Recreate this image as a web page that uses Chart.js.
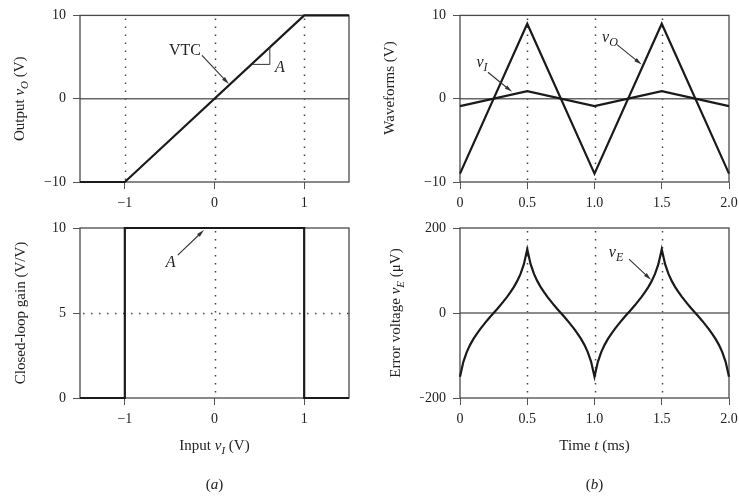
<!DOCTYPE html>
<html>
<head>
<meta charset="utf-8">
<script src="https://cdn.jsdelivr.net/npm/chart.js@4.4.0/dist/chart.umd.min.js"></script>
<style>
html, body { margin: 0; padding: 0; background: #fff; overflow: hidden; }
#wrap { position: relative; width: 739px; height: 497px; overflow: hidden; background: #fff; }
#wrap canvas { position: absolute; left: 0; top: 0; }
</style>
</head>
<body>
<div id="wrap">
  <canvas id="vtc" width="760" height="497"></canvas>
  <canvas id="gain" width="760" height="497"></canvas>
  <canvas id="waves" width="760" height="497"></canvas>
  <canvas id="error" width="760" height="497"></canvas>
</div>
<script>
// ---- data ----
var vtcInput = [-1.5, -1, 1, 1.5];
var vtcOutput = [-10, -10, 10, 10];

var gainInput = [-1.5, -1, -1, 1, 1, 1.5];
var gainValue = [0, 0, 10, 10, 0, 0];

var waveTime = [0, 0.5, 1.0, 1.5, 2.0];
var outputWave = [-9, 9, -9, 9, -9];
var inputWave = [-0.9, 0.9, -0.9, 0.9, -0.9];

var errorTime = [
  0, 0.025, 0.05, 0.075, 0.1, 0.125, 0.15, 0.175, 0.2, 0.225,
  0.25, 0.275, 0.3, 0.325, 0.35, 0.375, 0.4, 0.425, 0.45, 0.475,
  0.5, 0.525, 0.55, 0.575, 0.6, 0.625, 0.65, 0.675, 0.7, 0.725,
  0.75, 0.775, 0.8, 0.825, 0.85, 0.875, 0.9, 0.925, 0.95, 0.975,
  1.0, 1.025, 1.05, 1.075, 1.1, 1.125, 1.15, 1.175, 1.2, 1.225,
  1.25, 1.275, 1.3, 1.325, 1.35, 1.375, 1.4, 1.425, 1.45, 1.475,
  1.5, 1.525, 1.55, 1.575, 1.6, 1.625, 1.65, 1.675, 1.7, 1.725,
  1.75, 1.775, 1.8, 1.825, 1.85, 1.875, 1.9, 1.925, 1.95, 1.975, 2.0
];
var errorWave = [
  -150, -115, -92, -75, -61, -49, -38, -28, -18, -9,
  0, 9, 18, 28, 38, 49, 61, 75, 92, 115,
  150, 115, 92, 75, 61, 49, 38, 28, 18, 9,
  0, -9, -18, -28, -38, -49, -61, -75, -92, -115,
  -150, -115, -92, -75, -61, -49, -38, -28, -18, -9,
  0, 9, 18, 28, 38, 49, 61, 75, 92, 115,
  150, 115, 92, 75, 61, 49, 38, 28, 18, 9,
  0, -9, -18, -28, -38, -49, -61, -75, -92, -115, -150
];

var inputTicks = [-1, 0, 1];
var timeTicks = [0, 0.5, 1.0, 1.5, 2.0];
var voltTicks = [-10, 0, 10];
var gainTicks = [0, 5, 10];
var errorTicks = [-200, 0, 200];

var SERIF = '"Liberation Serif", "Times New Roman", serif';
var R15 = '15px ' + SERIF, I15 = 'italic 15px ' + SERIF, S11 = 'italic 11px ' + SERIF;
var R16 = '16px ' + SERIF, I16 = 'italic 16px ' + SERIF, S12 = 'italic 12px ' + SERIF;

Chart.defaults.font.family = SERIF;
Chart.defaults.font.size = 14;
Chart.defaults.color = '#222';

function pts(xs, ys) {
  return xs.map(function(x, i) { return { x: x, y: ys[i] }; });
}

function signed(v) {
  return v < 0 ? '\u2212' + Math.abs(v) : String(v);
}

function timeLabel(v) {
  return v === 0 ? '0' : v.toFixed(1);
}

// text made of runs in different fonts, centred at (x, y)
function richText(ctx, parts, x, y, angle) {
  ctx.save();
  ctx.translate(x, y);
  ctx.rotate(angle || 0);
  ctx.fillStyle = '#222';
  ctx.textBaseline = 'alphabetic';
  var w = 0;
  parts.forEach(function(p) { ctx.font = p[1]; w += ctx.measureText(p[0]).width; });
  var cx = -w / 2;
  parts.forEach(function(p) {
    ctx.font = p[1];
    ctx.fillText(p[0], cx, 5 + (p[2] || 0));
    cx += ctx.measureText(p[0]).width;
  });
  ctx.restore();
}

function arrow(ctx, x1, y1, x2, y2) {
  var a = Math.atan2(y2 - y1, x2 - x1), h = 8;
  ctx.save();
  ctx.strokeStyle = '#333';
  ctx.fillStyle = '#333';
  ctx.lineWidth = 1.1;
  ctx.beginPath();
  ctx.moveTo(x1, y1);
  ctx.lineTo(x2 - 5 * Math.cos(a), y2 - 5 * Math.sin(a));
  ctx.stroke();
  ctx.beginPath();
  ctx.moveTo(x2, y2);
  ctx.lineTo(x2 - h * Math.cos(a - 0.25), y2 - h * Math.sin(a - 0.25));
  ctx.lineTo(x2 - h * Math.cos(a + 0.25), y2 - h * Math.sin(a + 0.25));
  ctx.closePath();
  ctx.fill();
  ctx.restore();
}

// per panel extras: dotted / solid guide lines, titles, notes
var panels = {
  vtc: {
    vDots: [-1, 0, 1], hDots: [], hSolid: [0],
    draw: function(ctx, c, X, Y, a) {
      richText(ctx, [['Output ', R15], ['v', I15], ['O', S11, 4], [' (V)', R15]], 19, (a.top + a.bottom) / 2, -Math.PI / 2);
      richText(ctx, [['VTC', R16]], X(-0.33), Y(5.8));
      arrow(ctx, X(-0.14), Y(5.2), X(0.16), Y(1.76));
      ctx.save();
      ctx.strokeStyle = '#333';
      ctx.lineWidth = 1;
      ctx.beginPath();
      ctx.moveTo(X(0.417), Y(4.12));
      ctx.lineTo(X(0.617), Y(4.12));
      ctx.lineTo(X(0.617), Y(6.24));
      ctx.stroke();
      ctx.restore();
      richText(ctx, [['A', I16]], X(0.73), Y(3.8));
    }
  },
  gain: {
    vDots: [0], hDots: [5], hSolid: [],
    draw: function(ctx, c, X, Y, a) {
      richText(ctx, [['Closed-loop gain (V/V)', R15]], 20, (a.top + a.bottom) / 2, -Math.PI / 2);
      richText(ctx, [['Input ', R15], ['v', I15], ['I', S11, 4], [' (V)', R15]], (a.left + a.right) / 2, 445);
      richText(ctx, [['(', R15], ['a', I15], [')', R15]], (a.left + a.right) / 2, 484);
      richText(ctx, [['A', I16]], X(-0.49), Y(8.0));
      arrow(ctx, X(-0.41), Y(8.4), X(-0.117), Y(9.88));
    }
  },
  waves: {
    vDots: [0.5, 1.0, 1.5], hDots: [], hSolid: [0],
    draw: function(ctx, c, X, Y, a) {
      richText(ctx, [['Waveforms (V)', R15]], 389, 88, -Math.PI / 2);
      richText(ctx, [['v', I16], ['I', S12, 4]], X(0.164), Y(4.35));
      arrow(ctx, X(0.208), Y(3.18), X(0.387), Y(0.82));
      richText(ctx, [['v', I16], ['O', S12, 4]], X(1.115), Y(7.4));
      arrow(ctx, X(1.167), Y(6.5), X(1.35), Y(4.1));
    }
  },
  error: {
    vDots: [0.5, 1.0, 1.5], hDots: [], hSolid: [0],
    draw: function(ctx, c, X, Y, a) {
      richText(ctx, [['Error voltage ', R15], ['v', I15], ['E', S11, 4], [' (\u03bcV)', R15]], 395, (a.top + a.bottom) / 2, -Math.PI / 2);
      richText(ctx, [['Time ', R15], ['t', I15], [' (ms)', R15]], (a.left + a.right) / 2, 445);
      richText(ctx, [['(', R15], ['b', I15], [')', R15]], (a.left + a.right) / 2, 484);
      richText(ctx, [['v', I16], ['E', S12, 4]], X(1.16), Y(143));
      arrow(ctx, X(1.257), Y(127), X(1.42), Y(78));
    }
  }
};

var panelPlugin = {
  id: 'panelExtras',
  beforeDatasetsDraw: function(chart) {
    var p = panels[chart.canvas.id];
    var ctx = chart.ctx, a = chart.chartArea;
    var xs = chart.scales.x, ys = chart.scales.y;
    ctx.save();
    ctx.strokeStyle = '#444';
    ctx.lineWidth = 1.5;
    ctx.setLineDash([1.5, 6.5]);
    p.vDots.forEach(function(v) {
      var x = Math.round(xs.getPixelForValue(v)) + 0.5;
      ctx.beginPath(); ctx.moveTo(x, a.top + 3); ctx.lineTo(x, a.bottom); ctx.stroke();
    });
    p.hDots.forEach(function(v) {
      var y = Math.round(ys.getPixelForValue(v)) + 0.5;
      ctx.beginPath(); ctx.moveTo(a.left + 3, y); ctx.lineTo(a.right, y); ctx.stroke();
    });
    ctx.setLineDash([]);
    ctx.strokeStyle = '#666';
    ctx.lineWidth = 1.5;
    p.hSolid.forEach(function(v) {
      var y = ys.getPixelForValue(v);
      ctx.beginPath(); ctx.moveTo(a.left, y); ctx.lineTo(a.right, y); ctx.stroke();
    });
    ctx.strokeStyle = '#4a4a4a';
    ctx.lineWidth = 1.3;
    ctx.strokeRect(a.left, a.top, a.right - a.left, a.bottom - a.top);
    ctx.restore();
  },
  afterDraw: function(chart) {
    var p = panels[chart.canvas.id];
    var xs = chart.scales.x, ys = chart.scales.y;
    p.draw(chart.ctx, chart,
      function(v) { return xs.getPixelForValue(v); },
      function(v) { return ys.getPixelForValue(v); },
      chart.chartArea);
  }
};

function lineSet(xs, ys) {
  return {
    data: pts(xs, ys),
    borderColor: '#1a1a1a',
    borderWidth: 2.2,
    pointRadius: 0,
    tension: 0,
    fill: false,
    clip: false
  };
}

function axis(min, max, tickVals, fmt, isX) {
  return {
    type: 'linear',
    min: min,
    max: max,
    afterBuildTicks: function(s) { s.ticks = tickVals.map(function(v) { return { value: v }; }); },
    afterFit: function(s) { if (isX) { s.height = 30; } else { s.width = 40; } },
    border: { display: false },
    grid: { drawOnChartArea: false, drawTicks: true, tickLength: 7, color: '#555', lineWidth: 1 },
    ticks: {
      autoSkip: false,
      maxRotation: 0,
      padding: isX ? 6 : 7,
      color: '#222',
      font: { size: 14 },
      callback: function(v) { return fmt(v); }
    }
  };
}

function makePanel(id, datasets, padding, xAxis, yAxis) {
  return new Chart(document.getElementById(id), {
    type: 'line',
    data: { datasets: datasets },
    options: {
      responsive: false,
      animation: false,
      events: [],
      layout: { padding: padding },
      plugins: { legend: { display: false }, tooltip: { enabled: false } },
      scales: { x: xAxis, y: yAxis }
    },
    plugins: [panelPlugin]
  });
}

makePanel('vtc', [lineSet(vtcInput, vtcOutput)],
  { left: 40, right: 411, top: 12, bottom: 285 },
  axis(-1.5, 1.5, inputTicks, signed, true),
  axis(-10, 10, voltTicks, signed, false));

makePanel('gain', [lineSet(gainInput, gainValue)],
  { left: 40, right: 411, top: 228, bottom: 69 },
  axis(-1.5, 1.5, inputTicks, signed, true),
  axis(0, 10, gainTicks, signed, false));

makePanel('waves', [lineSet(waveTime, outputWave), lineSet(waveTime, inputWave)],
  { left: 420, right: 31, top: 12, bottom: 285 },
  axis(0, 2, timeTicks, timeLabel, true),
  axis(-10, 10, voltTicks, signed, false));

makePanel('error', [lineSet(errorTime, errorWave)],
  { left: 420, right: 31, top: 228, bottom: 69 },
  axis(0, 2, timeTicks, timeLabel, true),
  axis(-200, 200, errorTicks, signed, false));
</script>
</body>
</html>
